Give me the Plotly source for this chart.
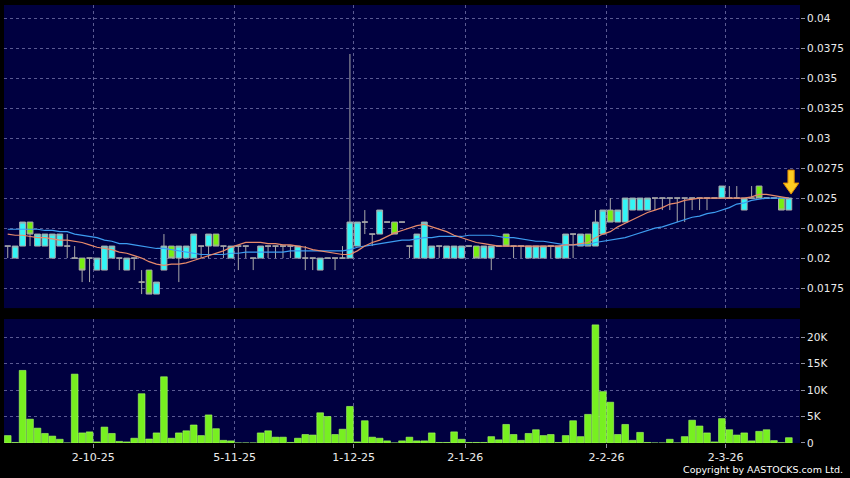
import plotly.graph_objects as go

# ---------------- data ----------------
bar_index = list(range(106))

open_ = [21,20,21,23,21,21,20,21,21,20, 20,20,19,19,20,20,19,20,18,19,
         17,19,21,20,20,20,21,21,22,21, 20,21,21,20,20,21,21,21,21,20,
         20,20,19,20,20,20,20,21,23,22, 22,23,23,23,21,20,20,20,21,20,
         20,20,21,21,20,20,21,22,21,21, 20,20,20,21,20,20,22,21,22,21,
         22,24,23,23,24,24,24,25,25,25, 25,25,25,25,25,25,25,25,25,24,
         25,26,25,25,25,24]
high_ = [21,21,23,23,22,22,22,22,22,21, 20,20,20,21,21,20,20,20,19,19,
         18,22,21,21,21,22,21,22,22,21, 21,21,21,20,21,21,21,21,21,21,
         21,20,20,20,20,21,37,23,24,22, 24,23,23,23,21,22,23,21,21,21,
         21,21,21,21,21,21,21,22,21,21, 21,21,21,21,21,22,22,22,22,24,
         24,25,24,25,25,25,25,25,25,25, 25,25,25,25,25,25,26,26,26,25,
         26,26,25,25,25,25]
low_ = [20,20,21,21,21,21,20,21,20,20, 18,18,19,19,20,19,19,19,17,17,
        17,19,20,18,20,20,20,20,21,20, 20,19,20,19,20,20,20,20,20,20,
        19,19,19,20,19,20,20,21,22,21, 22,23,22,23,20,20,20,20,20,20,
        20,20,21,20,20,19,21,21,20,20, 20,20,20,20,20,20,20,21,21,21,
        22,23,23,23,24,24,24,24,24,24, 23,23,24,24,24,25,25,25,25,24,
        25,25,25,25,24,24]
close_ = [21,21,23,22,22,22,22,22,21,20, 19,20,20,21,21,20,20,20,18,17,
          18,21,20,21,21,22,21,22,21,21, 21,21,21,20,21,21,21,21,21,21,
          20,20,20,20,20,20,23,23,23,22, 24,23,22,23,21,22,23,21,21,21,
          21,21,21,20,21,21,21,21,21,21, 21,21,21,21,21,22,22,22,21,23,
          24,23,24,25,25,25,25,25,25,25, 25,25,25,25,25,25,26,25,25,25,
          25,25,25,25,24,25]

volume_k = [1.4,0.1,13.7,4.5,2.8,1.8,1.3,0.7,0.0,13.0, 1.9,2.1,0.2,3.0,1.8,0.3,0.2,0.9,9.3,0.75,
            1.9,12.5,0.9,1.9,2.3,3.4,1.4,5.3,2.7,0.5, 0.4,0.0,0.0,0.0,1.9,2.3,1.1,1.1,0.1,0.9,
            1.6,1.5,5.7,5.0,1.6,2.6,6.9,0.2,4.2,1.1, 0.9,0.4,0.0,0.4,1.1,0.4,0.4,1.9,0.1,0.1,
            2.1,0.7,0.1,0.1,0.1,1.2,0.6,3.5,1.6,0.5, 1.8,2.5,1.4,1.6,0.1,1.4,4.2,1.2,5.4,22.3,
            9.7,7.7,1.6,3.5,0.5,2.0,0.1,0.0,0.0,0.7, 0.0,1.2,4.3,3.2,1.9,0.2,4.6,2.5,1.5,1.9,
            0.4,2.2,2.5,0.45,0.05,1.0]

ma_short = [.0220,.0219,.0219,.0218,.0217,.0217,.0216,.0215,.0215,.0214,
            .0213,.0211,.0209,.0208,.0207,.0205,.0204,.0202,.0200,.0197,
            .0195,.0194,.0195,.0195,.0196,.0198,.0200,.0202,.0204,.0206,
            .0209,.0211,.0213,.0213,.0213,.0212,.0212,.0211,.0211,.0210,
            .0209,.0207,.0206,.0205,.0204,.0203,.0203,.0206,.0210,.0213,
            .0215,.0218,.0221,.0223,.0225,.0227,.0228,.0226,.0224,.0222,
            .0219,.0217,.0215,.0213,.0212,.0211,.0210,.0210,.0210,.0210,
            .0210,.0210,.0210,.0210,.0210,.0211,.0211,.0212,.0213,.0217,
            .0220,.0222,.0226,.0229,.0232,.0235,.0238,.0240,.0242,.0245,
            .0246,.0248,.0249,.0250,.0250,.0250,.0250,.0250,.0250,.0250,
            .0251,.0253,.0253,.0252,.0251,.0250]
ma_long = [.0224,.0224,.0224,.0224,.0224,.0223,.0223,.0222,.0222,.0220,
           .0219,.0218,.0217,.0215,.0214,.0212,.0212,.0211,.0210,.0209,
           .0208,.0208,.0207,.0206,.0205,.0204,.0203,.0203,.0203,.0203,
           .0204,.0204,.0205,.0205,.0205,.0205,.0205,.0205,.0206,.0206,
           .0206,.0206,.0206,.0206,.0206,.0206,.0207,.0209,.0210,.0211,
           .0212,.0213,.0214,.0215,.0215,.0216,.0217,.0217,.0218,.0218,
           .0218,.0218,.0219,.0219,.0219,.0219,.0218,.0217,.0217,.0216,
           .0215,.0214,.0214,.0213,.0212,.0211,.0211,.0211,.0211,.0213,
           .0214,.0215,.0216,.0217,.0219,.0221,.0223,.0225,.0226,.0228,
           .0230,.0232,.0234,.0235,.0237,.0238,.0240,.0242,.0245,.0246,
           .0248,.0249,.0250,.0250,.0250,.0250]

date_tick_pos = [11.5, 30.5, 46.5, 61.5, 80.5, 96.5]
date_tick_text = ["2-10-25", "5-11-25", "1-12-25", "2-1-26", "2-2-26", "2-3-26"]
price_ticks = [0.0175, 0.02, 0.0225, 0.025, 0.0275, 0.03, 0.0325, 0.035, 0.0375, 0.04]
price_tick_text = ["0.0175", "0.02", "0.0225", "0.025", "0.0275", "0.03", "0.0325", "0.035", "0.0375", "0.04"]
vol_ticks = [0, 5000, 10000, 15000, 20000]
vol_tick_text = ["0", "5K", "10K", "15K", "20K"]

# ---------------- styling ----------------
PAPER = "#000000"
PLOT = "#000040"
GRID = "#5a5a92"
TXT = "#ececec"
WICK = "#a8a8a8"
CYAN = "#33f5f5"
GREEN = "#77ee11"
ORANGE = "#e88a6a"
BLUE = "#3d9cf0"
VOLG = "#77f020"
FONT = "DejaVu Sans"

scale = 0.001
O = [v * scale for v in open_]
H = [v * scale for v in high_]
L = [v * scale for v in low_]
C = [v * scale for v in close_]
V = [v * 1000 for v in volume_k]


def subset(cond):
    idx = [i for i in bar_index if cond(O[i], C[i])]
    return (idx, [O[i] for i in idx], [H[i] for i in idx],
            [L[i] for i in idx], [C[i] for i in idx])


fig = go.Figure()

for cond, fill in [(lambda o, c: c > o, CYAN),
                   (lambda o, c: c < o, GREEN),
                   (lambda o, c: c == o, WICK)]:
    x, o, h, l, c = subset(cond)
    fig.add_trace(go.Candlestick(
        x=x, open=o, high=h, low=l, close=c,
        increasing=dict(fillcolor=fill, line=dict(color=WICK, width=1)),
        decreasing=dict(fillcolor=fill, line=dict(color=WICK, width=1)),
        whiskerwidth=0, showlegend=False, hoverinfo="skip",
        xaxis="x", yaxis="y"))

fig.add_trace(go.Scatter(x=bar_index, y=ma_long, mode="lines",
                         line=dict(color=BLUE, width=1.2), showlegend=False,
                         xaxis="x", yaxis="y", hoverinfo="skip"))
fig.add_trace(go.Scatter(x=bar_index, y=ma_short, mode="lines",
                         line=dict(color=ORANGE, width=1.2), showlegend=False,
                         xaxis="x", yaxis="y", hoverinfo="skip"))

fig.add_trace(go.Bar(x=bar_index, y=V, marker=dict(color=VOLG, line=dict(color="#aaff66", width=0.6)),
                     showlegend=False, xaxis="x2", yaxis="y2", hoverinfo="skip"))

# down arrow marker at the last bar
ax_i, ax_p = 105.3, 0.02533
arrow_path = (f"M {ax_i-0.42},{ax_p+0.0020} L {ax_i+0.42},{ax_p+0.0020} "
              f"L {ax_i+0.42},{ax_p+0.00092} L {ax_i+1.05},{ax_p+0.00092} "
              f"L {ax_i},{ax_p} L {ax_i-1.05},{ax_p+0.00092} "
              f"L {ax_i-0.42},{ax_p+0.00092} Z")

grid = dict(showgrid=True, gridcolor=GRID, griddash="3px,3px", gridwidth=1)

fig.update_layout(
    width=850, height=478,
    paper_bgcolor=PAPER, plot_bgcolor=PLOT,
    margin=dict(l=4, r=50, t=5, b=35),
    font=dict(family=FONT, size=11, color=TXT),
    boxgap=0.22, boxgroupgap=0.0, bargap=0.1,
    showlegend=False,
    xaxis=dict(domain=[0, 1], anchor="y", range=[-0.5, 106.5],
               tickvals=date_tick_pos, ticktext=date_tick_text,
               showticklabels=False, zeroline=False,
               rangeslider=dict(visible=False), **grid),
    yaxis=dict(domain=[0.308, 1], anchor="x", side="right",
               range=[0.015833, 0.041083], tickvals=price_ticks,
               ticktext=price_tick_text, ticks="outside", ticklen=4,
               tickcolor="#9090a0", tickfont=dict(size=10.5),
               zeroline=False, **grid),
    xaxis2=dict(domain=[0, 1], anchor="y2", matches="x", range=[-0.5, 106.5],
                tickvals=date_tick_pos, ticktext=date_tick_text,
                ticks="outside", ticklen=4, tickcolor="#9090a0",
                zeroline=False, **grid),
    yaxis2=dict(domain=[0, 0.283], anchor="x2", side="right",
                range=[0, 23400], tickvals=vol_ticks, ticktext=vol_tick_text,
                ticks="outside", ticklen=4, tickcolor="#9090a0",
                tickfont=dict(size=10.5), zeroline=False, **grid),
    shapes=[dict(type="path", xref="x", yref="y", path=arrow_path,
                 fillcolor="#ffcc22", line=dict(color="#e08a00", width=1))],
    annotations=[dict(text="Copyright by AASTOCKS.com Ltd.", xref="paper", yref="paper",
                      x=1.0565, y=-0.06, xanchor="right", yanchor="middle",
                      showarrow=False, font=dict(family=FONT, size=9.5, color="#ffffff"))],
)

fig.write_html("out.html", config={"displayModeBar": False},
               post_script="document.body.style.margin='0';document.body.style.background='#000';")
